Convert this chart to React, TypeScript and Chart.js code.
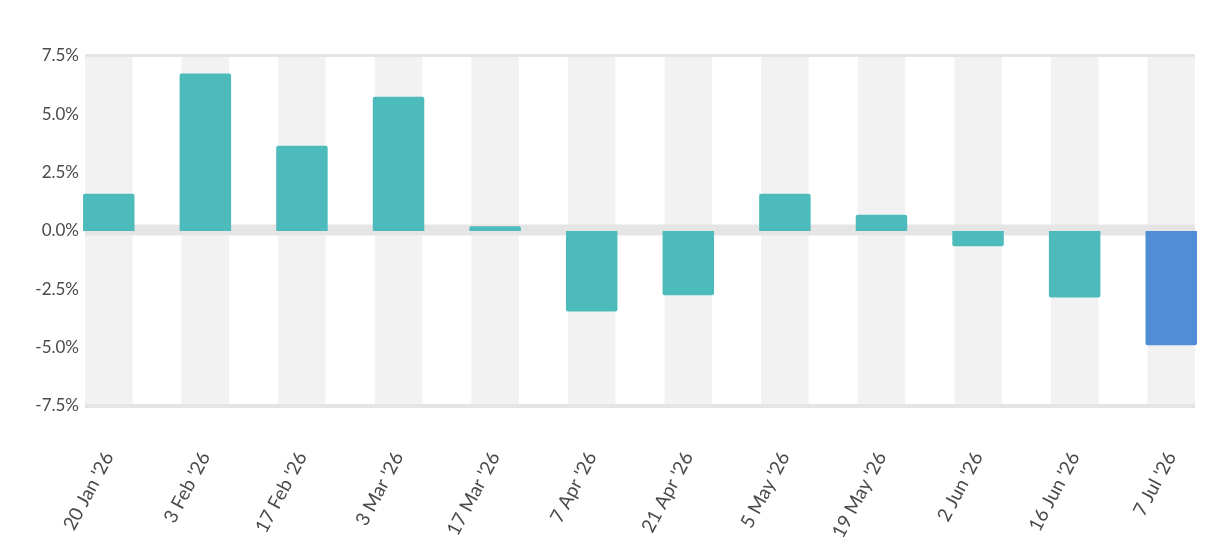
import React, { useEffect, useRef } from "react";
import { Chart, registerables } from "chart.js";

Chart.register(...registerables);

const categories = [
  "20 Jan '26", "3 Feb '26", "17 Feb '26", "3 Mar '26", "17 Mar '26", "7 Apr '26",
  "21 Apr '26", "5 May '26", "19 May '26", "2 Jun '26", "16 Jun '26", "7 Jul '26",
];
const returns = [1.6, 6.75, 3.65, 5.75, 0.2, -3.45, -2.75, 1.6, 0.7, -0.65, -2.85, -4.9];
const yTicks = [-7.5, -5, -2.5, 0, 2.5, 5, 7.5];
const yMin = -7.5;
const yMax = 7.5;

const TEAL = "#4dbbbb";
const BLUE = "#508dd6";
const BAND = "#f2f2f2";
const LINE = "#e5e5e5";

const linesPlugin = {
  id: "refLines",
  beforeDatasetDraw(chart: any, args: any) {
    if (args.index !== 0) return;
    const { ctx, chartArea, scales } = chart;
    const y = scales.y;
    const l = chartArea.left;
    const w = chartArea.right - chartArea.left;
    ctx.save();
    ctx.fillStyle = LINE;
    const top = y.getPixelForValue(yMax);
    const bot = y.getPixelForValue(yMin);
    const zero = y.getPixelForValue(0);
    ctx.fillRect(l, top - 2, w, 3);
    ctx.fillRect(l, bot - 2, w, 4);
    ctx.fillRect(l, zero - 6.5, w, 11);
    ctx.restore();
  },
};

export default function App() {
  const ref = useRef<HTMLCanvasElement | null>(null);
  useEffect(() => {
    if (!ref.current) return;
    const last = returns.length - 1;
    const chart = new Chart(ref.current, {
      type: "bar",
      data: {
        datasets: [
          {
            data: returns.map((v, i) => ({ x: i, y: v })) as any,
            backgroundColor: returns.map((_, i) => (i === last ? BLUE : TEAL)),
            barPercentage: 0.533,
            categoryPercentage: 1,
            borderRadius: 2,
            borderSkipped: "start",
            grouped: false,
            order: 0,
            clip: false as any,
          },
          {
            data: categories.map((_, i) => ({ x: i, y: [yMin, yMax] })) as any,
            backgroundColor: BAND,
            barPercentage: 0.492,
            categoryPercentage: 1,
            borderRadius: 0,
            grouped: false,
            order: 1,
          },
        ],
      },
      options: {
        animation: false,
        responsive: true,
        maintainAspectRatio: false,
        layout: { padding: { top: 48, right: 21, left: 0, bottom: 0 } },
        plugins: { legend: { display: false }, tooltip: { enabled: false } },
        scales: {
          x: {
            type: "linear",
            offset: false,
            min: -0.246,
            max: categories.length - 1 + 0.246,
            grid: { display: false, drawTicks: false },
            border: { display: false },
            afterBuildTicks: (scale: any) => {
              scale.ticks = categories.map((_, i) => ({ value: i }));
            },
            afterFit: (scale: any) => {
              scale.height = 136;
              scale.paddingLeft = 0;
              scale.paddingRight = 0;
            },
            ticks: {
              autoSkip: false,
              maxRotation: 62,
              minRotation: 62,
              padding: 42,
              color: "#4a4a4a",
              font: { family: "Lato", size: 19 },
              callback: (v: any) => categories[Math.round(Number(v))] ?? "",
            },
          },
          y: {
            min: yMin,
            max: yMax,
            grid: { display: false, drawTicks: false },
            border: { display: false },
            afterBuildTicks: (scale: any) => {
              scale.ticks = yTicks.map((v) => ({ value: v }));
            },
            afterFit: (scale: any) => {
              scale.width = 77;
              scale.paddingTop = 0;
              scale.paddingBottom = 0;
            },
            ticks: {
              padding: 6,
              color: "#4a4a4a",
              font: { family: "Lato", size: 17 },
              callback: (v: any) => Number(v).toFixed(1) + "%",
            },
          },
        },
      },
      plugins: [linesPlugin],
    });
    return () => chart.destroy();
  }, []);
  return (
    <div style={{ width: 1208, height: 534, position: "relative" }}>
      <canvas ref={ref} />
    </div>
  );
}
